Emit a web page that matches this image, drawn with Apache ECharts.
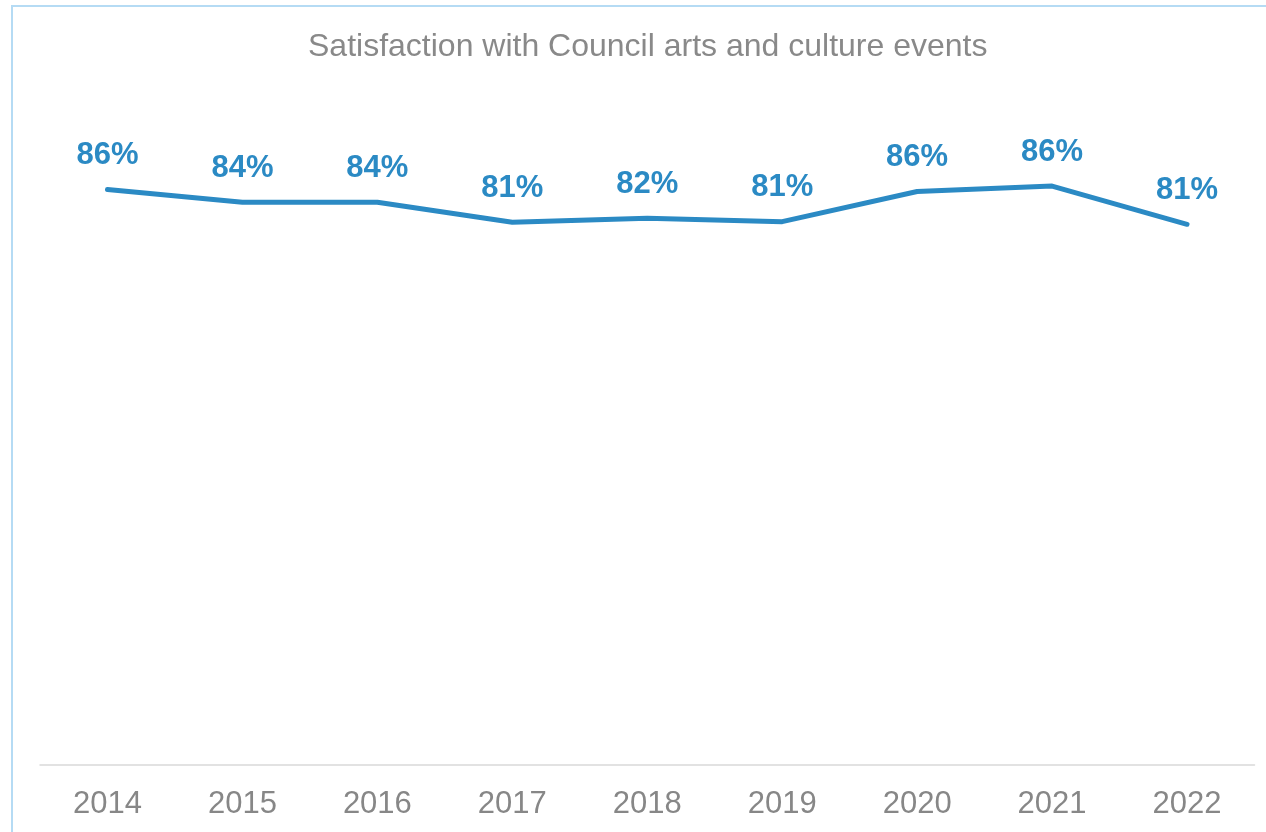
<!DOCTYPE html>
<html>
<head>
<meta charset="utf-8">
<script src="https://cdn.jsdelivr.net/npm/echarts@6/dist/echarts.min.js"></script>
<style>
  html, body { margin: 0; padding: 0; background: #ffffff; overflow: hidden; }
  #frame { position: absolute; left: 11px; top: 5px; width: 1400px; height: 1000px; border: 2px solid #b5dbf4; box-sizing: border-box; }
  #chart { position: absolute; left: 0; top: 0; width: 1266px; height: 832px; }
</style>
</head>
<body>
<div id="frame"></div>
<div id="chart"></div>
<script>
const titleText = 'Satisfaction with Council arts and culture events';
const years = ['2014', '2015', '2016', '2017', '2018', '2019', '2020', '2021', '2022'];
const satisfaction = [85.9, 84.0, 84.0, 81.0, 81.6, 81.1, 85.6, 86.4, 80.7];

const chart = echarts.init(document.getElementById('chart'), null, { renderer: 'canvas' });
const FONT = '"Liberation Sans", Arial, sans-serif';
chart.setOption({
  backgroundColor: 'transparent',
  animation: false,
  title: {
    text: titleText,
    left: 308,
    top: 31,
    padding: 0,
    textStyle: { fontFamily: FONT, fontSize: 32, fontWeight: 'normal', color: '#898989' }
  },
  grid: { left: 40, right: 11.5, top: 95, bottom: 67, containLabel: false },
  xAxis: {
    type: 'category',
    data: years,
    boundaryGap: true,
    axisLine: { show: true, lineStyle: { color: '#d9d9d9', width: 1.5 } },
    axisTick: { show: false },
    axisLabel: { fontFamily: FONT, fontSize: 31, color: '#878787', margin: 24 },
    splitLine: { show: false }
  },
  yAxis: {
    type: 'value',
    min: 0,
    max: 100,
    show: false,
    splitLine: { show: false }
  },
  series: [{
    type: 'line',
    data: satisfaction,
    symbol: 'circle',
    symbolSize: 1,
    showSymbol: true,
    itemStyle: { color: '#2b8ac4' },
    lineStyle: { color: '#2b8ac4', width: 5, cap: 'round', join: 'round' },
    label: {
      show: true,
      position: 'top',
      distance: 18,
      fontFamily: FONT,
      fontSize: 31,
      fontWeight: 'bold',
      color: '#2b8ac4',
      formatter: p => Math.round(p.value) + '%'
    }
  }]
});
</script>
</body>
</html>
